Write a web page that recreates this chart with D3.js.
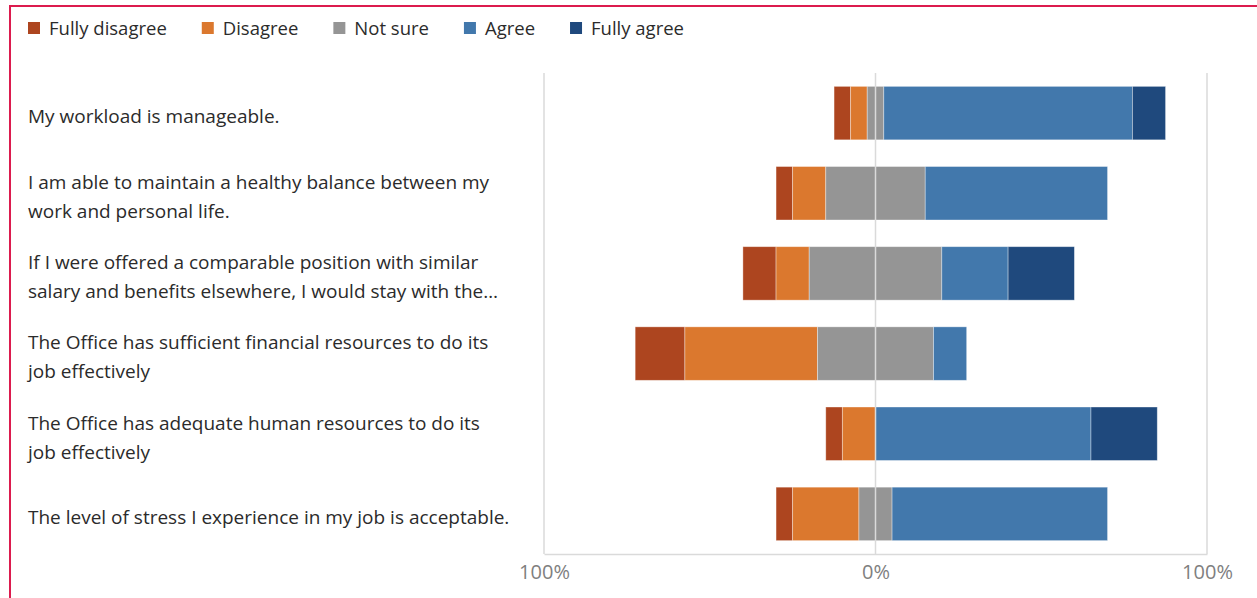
<!DOCTYPE html>
<html>
<head>
<meta charset="utf-8">
<script src="https://cdn.jsdelivr.net/npm/d3@7"></script>
<style>
  html, body { margin: 0; padding: 0; background: #ffffff; }
  svg { display: block; font-family: "Open Sans", "Noto Sans", sans-serif; }
</style>
</head>
<body>
<svg id="chart" width="1257" height="598"></svg>
<script>
// Survey statements (each entry is the wrapped label lines)
const categories = [
  ["My workload is manageable."],
  ["I am able to maintain a healthy balance between my", "work and personal life."],
  ["If I were offered a comparable position with similar", "salary and benefits elsewhere, I would stay with the\u2026"],
  ["The Office has sufficient financial resources to do its", "job effectively"],
  ["The Office has adequate human resources to do its", "job effectively"],
  ["The level of stress I experience in my job is acceptable."]
];

// Response shares, in percent
const fullyDisagree = [5, 5, 10, 15, 5, 5];
const disagree      = [5, 10, 10, 40, 10, 20];
const notSure       = [5, 30, 40, 35, 0, 10];
const agree         = [75, 55, 20, 10, 65, 65];
const fullyAgree    = [10, 0, 20, 0, 20, 0];

const seriesNames = ["Fully disagree", "Disagree", "Not sure", "Agree", "Fully agree"];
const seriesColors = ["#ad451f", "#db782e", "#959595", "#4278ac", "#1f497d"];

const tickValues = [-100, 0, 100];
const tickLabels = ["100%", "0%", "100%"];

const svg = d3.select("#chart");
const W = 1257, H = 598;
const labelFont = 19;
const legendFont = 18.5;
const tickFont = 20;

svg.append("rect").attr("width", W).attr("height", H).attr("fill", "#ffffff");

// frame edges
svg.append("line").attr("x1", 9).attr("x2", W).attr("y1", 6).attr("y2", 6)
  .attr("stroke", "#dc1b4e").attr("stroke-width", 2);
svg.append("line").attr("x1", 10).attr("x2", 10).attr("y1", 5).attr("y2", H)
  .attr("stroke", "#dc1b4e").attr("stroke-width", 2);

const x = d3.scaleLinear().domain([-100, 100]).range([544, 1207]);
const y = d3.scaleBand().domain(d3.range(categories.length))
  .range([73, 554]).paddingInner(0.333).paddingOuter(0.1667);

// Diverging stack: "Not sure" is split across the zero line
const rows = categories.map((c, i) => {
  const ns = notSure[i] / 2;
  const segs = [];
  let left = -ns - disagree[i] - fullyDisagree[i];
  const vals = [fullyDisagree[i], disagree[i], notSure[i], agree[i], fullyAgree[i]];
  vals.forEach((v, k) => {
    segs.push({ row: i, series: k, x0: left, x1: left + v });
    left += v;
  });
  return segs;
});

// gridlines
const grid = svg.append("g");
grid.selectAll("line.v").data(tickValues.filter(t => t !== 0)).join("line")
  .attr("class", "v")
  .attr("x1", d => x(d)).attr("x2", d => x(d))
  .attr("y1", 73).attr("y2", 554)
  .attr("stroke", "#dadada").attr("stroke-width", 1.5);

// bars
svg.append("g").selectAll("g").data(rows).join("g")
  .selectAll("rect").data(d => d.filter(s => s.x1 > s.x0)).join("rect")
  .attr("x", d => x(d.x0))
  .attr("width", d => x(d.x1) - x(d.x0))
  .attr("y", d => y(d.row))
  .attr("height", y.bandwidth())
  .attr("fill", d => seriesColors[d.series])
  .attr("stroke", "rgba(255,255,255,0.45)")
  .attr("stroke-width", 0.8);

// zero line and baseline on top of the bars
svg.append("line")
  .attr("x1", x(0)).attr("x2", x(0)).attr("y1", 73).attr("y2", 554)
  .attr("stroke", "#dadada").attr("stroke-width", 1.5);

const xAxis = d3.axisBottom(x).tickValues(tickValues)
  .tickFormat((d, i) => tickLabels[i]).tickSize(0).tickPadding(11);
const axisG = svg.append("g").attr("transform", "translate(0,554)").call(xAxis);
axisG.select(".domain").attr("stroke", "#dadada").attr("stroke-width", 1.5);
axisG.selectAll("text")
  .attr("fill", "#7f7f7f")
  .style("font-size", tickFont + "px")
  .style("font-family", "\"Open Sans\", \"Noto Sans\", sans-serif");

// category labels
const lineH = 29;
const lab = svg.append("g");
categories.forEach((lines, i) => {
  const cy = y(i) + y.bandwidth() / 2 + 3.5;
  const t = lab.append("text")
    .attr("x", 28)
    .attr("fill", "#2b2b2b")
    .style("font-size", labelFont + "px");
  lines.forEach((ln, j) => {
    t.append("tspan")
      .attr("x", 28)
      .attr("y", cy + (j - (lines.length - 1) / 2) * lineH)
      .attr("dy", "0.36em")
      .text(ln);
  });
});

// legend
const legend = svg.append("g").attr("transform", "translate(28,28)");
let lx = 0;
seriesNames.forEach((name, k) => {
  const g = legend.append("g").attr("transform", `translate(${lx},0)`);
  g.append("rect").attr("x", 0).attr("y", -6).attr("width", 12).attr("height", 12)
    .attr("fill", seriesColors[k]);
  const t = g.append("text").attr("x", 21).attr("dy", "0.36em")
    .attr("fill", "#2b2b2b").style("font-size", legendFont + "px").text(name);
  lx += 21 + t.node().getComputedTextLength() + 35;
});
</script>
</body>
</html>
